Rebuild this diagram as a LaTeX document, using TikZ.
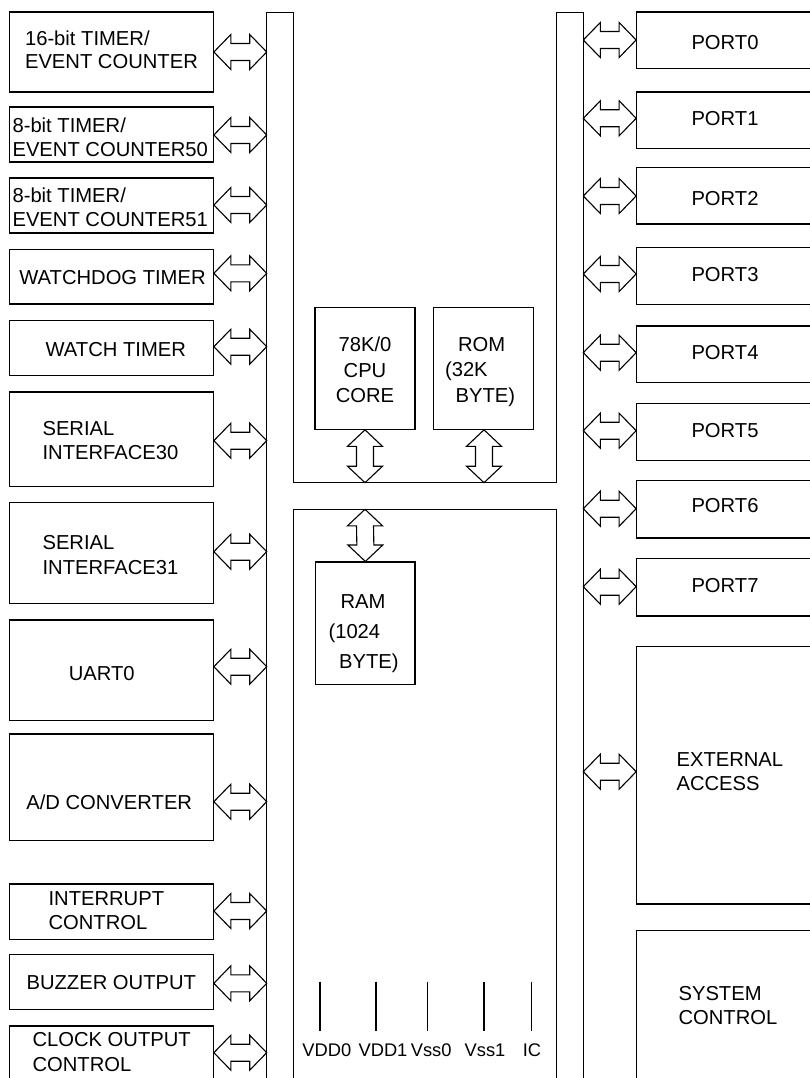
\documentclass[tikz,border=0pt]{standalone}
\usepackage{fontspec}
\setmainfont{Liberation Sans}
\usetikzlibrary{calc}
\newcommand\rbox[5]{\node[box, minimum width={#4-#2}, minimum height={#5-#3}] (#1) at ({(#2+#4)/2},{(#3+#5)/2}) {};}
\newcommand\hdbl[2]{\draw[dblarrow] #1 -- ++(17pt,17.5pt) -- ++(0,-9pt) -- ($#2+(-17pt,8.5pt)$) -- ++(0,9pt) -- #2 -- ++(-17pt,-17.5pt) -- ++(0,9pt) -- ($#1+(17pt,-8.5pt)$) -- ++(0,-9pt) -- cycle;}
\newcommand\vdbl[2]{\draw[dblarrow] #1 -- ++(17.5pt,-16.5pt) -- ++(-9pt,0) -- ($#2+(8.5pt,16.5pt)$) -- ++(9pt,0) -- #2 -- ++(-17.5pt,16.5pt) -- ++(9pt,0) -- ($#1+(-8.5pt,-16.5pt)$) -- ++(-9pt,0) -- cycle;}
\begin{document}
\begin{tikzpicture}[x=1pt,y=-1pt,line width=1.1pt,
  box/.style={draw, rectangle, inner sep=0pt},
  lab/.style={inner sep=0pt, font=\fontsize{20.2}{24.5}\selectfont},
  labl/.style={lab, align=left, anchor=west},
  pinlab/.style={inner sep=0pt, anchor=base, font=\fontsize{18.3}{22}\selectfont},
  dblarrow/.style={draw, fill=white, line join=miter}]
\useasboundingbox (0,0) rectangle (810,1078);
\clip (0,0) rectangle (810,1078);
% buses
\coordinate (busTL) at (266.7,12.5);
\coordinate (busTR) at (583.3,12.5);
\draw (266.7,1100) -- (busTL) -- (293.3,12.5) -- (293.3,482.7) -- (556.7,482.7) -- (556.7,12.5) -- (busTR) -- (583.3,1100);
% lower core
\rbox{core}{293.3}{509.3}{556.7}{1100}
% left boxes
\rbox{B1}{9.3}{12}{213.3}{92}
\rbox{B2}{9.3}{107}{213.3}{162}
\rbox{B3}{9.3}{178}{213.3}{233}
\rbox{B4}{9.3}{249.3}{213.3}{304}
\rbox{B5}{9.3}{320.7}{213.3}{375.3}
\rbox{B6}{9.3}{392}{213.3}{486.7}
\rbox{B7}{9.3}{502.7}{213.3}{603.3}
\rbox{B8}{9.3}{620}{213.3}{720.7}
\rbox{B9}{9.3}{734}{213.3}{840.7}
\rbox{B10}{9.3}{884}{213.3}{939.3}
\rbox{B11}{9.3}{954.7}{213.3}{1009.3}
\rbox{B12}{9.3}{1026}{213.3}{1100}
% right boxes
\rbox{P0}{636.7}{12}{830}{68.7}
\rbox{P1}{636.7}{92}{830}{148.7}
\rbox{P2}{636.7}{167.3}{830}{224}
\rbox{P3}{636.7}{247.3}{830}{304.7}
\rbox{P4}{636.7}{326}{830}{382.7}
\rbox{P5}{636.7}{403.3}{830}{460.7}
\rbox{P6}{636.7}{480.7}{830}{538}
\rbox{P7}{636.7}{558.7}{830}{616}
\rbox{EXT}{636.7}{646.7}{830}{904}
\rbox{SYS}{636.7}{930.7}{830}{1100}
% inner boxes
\rbox{CPU}{315}{307.3}{415}{429.3}
\rbox{ROM}{433.7}{307.3}{533.3}{429.3}
\rbox{RAM}{315.7}{562}{415}{684.3}
% bus coordinates
\foreach \n/\y in {1/52,2/135,3/205,4/273.3,5/346.7,6/440.7,7/551.7,8/666.7,9/801.7,10/911,11/983.3,12/1052.7}
  {\coordinate (LB\n) at (266.7,\y);}
\foreach \n/\y in {0/40,1/118.3,2/196,3/274,4/352.7,5/430.7,6/508.7,7/586.7}
  {\coordinate (RB\n) at (583.3,\y);}
\coordinate (RBext) at (583.3,771.7);
\coordinate (cpuBus) at (365,482.7);
\coordinate (romBus) at (484,482.7);
\coordinate (ramBus) at (365,509.3);
% left arrows
\foreach \n in {1,...,12}{\hdbl{(B\n.east|-LB\n)}{(LB\n)}}
% right arrows
\foreach \n in {0,...,7}{\hdbl{(RB\n)}{(P\n.west|-RB\n)}}
\hdbl{(RBext)}{(EXT.west|-RBext)}
% vertical arrows
\vdbl{(CPU.south)}{(cpuBus)}
\vdbl{(ROM.south-|romBus)}{(romBus)}
\vdbl{(ramBus)}{(RAM.north)}
% labels left
\node[labl,font=\fontsize{20.2}{22.5}\selectfont] (L1) at (24.5,50) {16-bit TIMER/\\EVENT COUNTER};
\node[labl] (L2) at (12,137.3) {8-bit TIMER/\\EVENT COUNTER50};
\node[labl] (L3) at (12,207.5) {8-bit TIMER/\\EVENT COUNTER51};
\node[lab] (L4) at (112.5,277.5) {WATCHDOG TIMER};
\node[lab] (L5) at (115.8,349.2) {WATCH TIMER};
\node[labl] (L6) at (42,440.5) {SERIAL\\INTERFACE30};
\node[labl] (L7) at (42,555) {SERIAL\\INTERFACE31};
\node[lab] (L8) at (101.7,673.3) {UART0};
\node[lab] (L9) at (109.2,802.5) {A/D CONVERTER};
\node[labl] (L10) at (48,910.8) {INTERRUPT\\CONTROL};
\node[lab] (L11) at (111.3,983) {BUZZER OUTPUT};
\node[labl] (L12) at (32,1052.2) {CLOCK OUTPUT\\CONTROL};
% labels inner
\node[lab,align=center,font=\fontsize{20.2}{25.5}\selectfont] (Lcpu) at (365,369.8) {78K/0\\CPU\\CORE};
\node[labl,font=\fontsize{20.2}{25.5}\selectfont] (Lrom) at (444.5,372) {\hspace*{13pt}ROM\\(32K\\\hspace*{10.5pt}BYTE)};
\node[labl,font=\fontsize{20.2}{30}\selectfont] (Lram) at (328,634) {\hspace*{12pt}RAM\\(1024\\\hspace*{10.5pt}BYTE)};
% labels right
\foreach \n/\y in {0/42.2,1/118.3,2/198.8,3/274.2,4/352.5,5/430.8,6/505.8,7/585.2}
  {\node[lab] (LP\n) at (725,\y) {PORT\n};}
\node[labl] (Lext) at (676,771.7) {EXTERNAL\\ACCESS};
\node[labl] (Lsys) at (678,1005.7) {SYSTEM\\CONTROL};
% pins
\node[pinlab] (pl0) at (326.8,1056.7) {VDD0};
\node[pinlab] (pl1) at (383,1056.7) {VDD1};
\node[pinlab] (pl2) at (431.2,1056.7) {Vss0};
\node[pinlab] (pl3) at (485,1056.7) {Vss1};
\node[pinlab] (pl4) at (532,1056.7) {IC};
\foreach \n/\x in {0/320,1/376,2/427.7,3/484,4/531.7}
  {\coordinate (pin\n) at (\x,981.7);
   \draw[shorten >=12.3pt] (pin\n) -- (pin\n|-pl\n.north);}
\end{tikzpicture}
\end{document}
